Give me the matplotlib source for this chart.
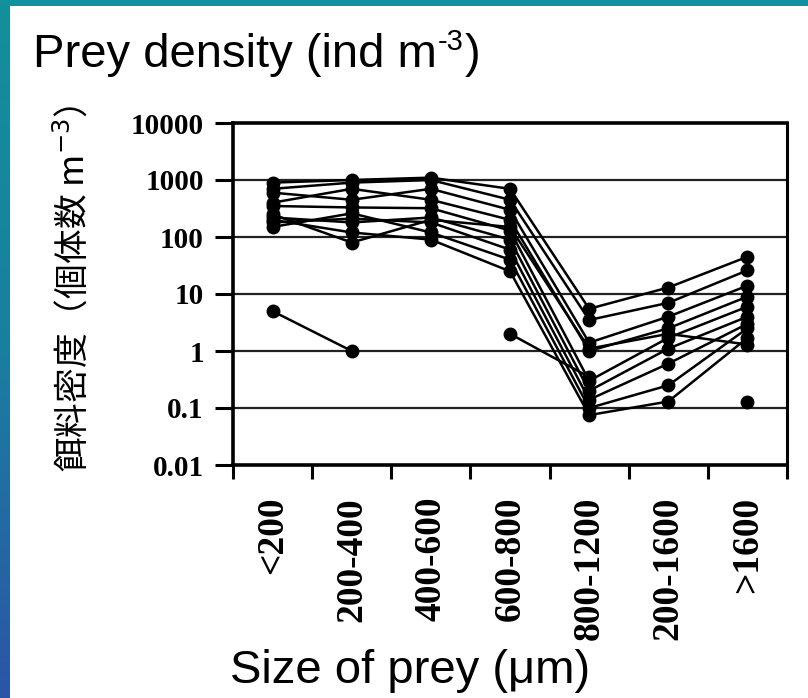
import numpy as np
import matplotlib.pyplot as plt
from matplotlib.patches import Rectangle
from matplotlib.colors import LinearSegmentedColormap
from matplotlib.ticker import NullLocator

W, H = 808, 698

categories = ["<200", "200-400", "400-600", "600-800", "800-1200", "200-1600", ">1600"]
yticks = [0.01, 0.1, 1, 10, 100, 1000, 10000]
ytick_labels = ["0.01", "0.1", "1", "10", "100", "1000", "10000"]

nan = np.nan
# prey density per size class, one list per sampling run
run_1 = [900, 1000, 1100, 700, 5.5, 13, 45]
run_2 = [700, 900, 1000, 450, 3.5, 7, 26]
run_3 = [600, 450, 700, 300, 1.4, 4, 14]
run_4 = [400, 700, 450, 200, 1.0, 2.5, 9]
run_5 = [350, 330, 320, 130, 0.3, 1.7, 6]
run_6 = [220, 180, 220, 90, 0.2, 1.1, 4]
run_7 = [180, 210, 180, 60, 0.14, 0.6, 3]
run_8 = [150, 260, 120, 40, 0.1, 0.25, 2.5]
run_9 = [200, 120, 90, 25, 0.075, 0.13, 1.7]
run_10 = [250, 80, 200, 150, 1.1, 2.0, 1.3]
run_11 = [5, 1, nan, nan, nan, nan, nan]
run_12 = [nan, nan, nan, 2, 0.35, nan, nan]
run_13 = [nan, nan, nan, nan, nan, nan, 0.13]

runs = [run_1, run_2, run_3, run_4, run_5, run_6, run_7,
        run_8, run_9, run_10, run_11, run_12, run_13]

fig = plt.figure(figsize=(W / 100, H / 100), dpi=100)

# slide frame: teal bar on top, teal->blue bar on the left
teal = "#13909a"
blue = "#2c55a6"
cmap = LinearSegmentedColormap.from_list("frame", [teal, "#1a7fa0", blue])
side = fig.add_axes([0, 0, 10 / W, 1])
side.imshow(np.linspace(0, 1, 256).reshape(-1, 1), aspect="auto", cmap=cmap)
side.axis("off")
fig.add_artist(Rectangle((0, 1 - 6 / H), 1, 6 / H, transform=fig.transFigure,
                         color=teal, lw=0))

ax = fig.add_axes([233 / W, (H - 465) / H, (787 - 233) / W, (465 - 123) / H])
x = np.arange(len(categories))
for r in runs:
    ax.plot(x, r, "-o", color="black", lw=1.8, ms=9, zorder=3)

ax.set_yscale("log")
ax.set_ylim(0.01, 10000)
ax.set_xlim(-0.5, 6.5)
for v in [0.1, 1, 10, 100, 1000]:
    ax.axhline(v, color="#222222", lw=1.6, zorder=1)

ax.set_yticks(yticks)
ax.set_yticklabels(ytick_labels, fontsize=21, fontweight="bold", family="Liberation Serif")
ax.yaxis.set_minor_locator(NullLocator())
ax.tick_params(axis="y", length=13, width=2.2, pad=8, direction="out")

ax.set_xticks(x)
ax.set_xticklabels(categories, rotation=90, fontsize=27, fontweight="bold",
                   family="Liberation Serif")
ax.set_xticks(np.arange(-0.5, 7), minor=True)
ax.tick_params(axis="x", which="major", length=0, pad=23)
ax.tick_params(axis="x", which="minor", length=10, width=2.2, direction="out")

for s in ["left", "bottom", "top"]:
    ax.spines[s].set_linewidth(2.6)
ax.spines["right"].set_linewidth(2.2)

fig.text(72 / W, 1 - 288 / H, "餌料密度（個体数 m$^{-3}$）", rotation=90,
         ha="center", va="center", fontsize=25,
         family=["Noto Sans CJK JP", "DejaVu Sans"])

# title pieces: small raised "-3" like the slide
t1 = fig.text(33 / W, 1 - 67 / H, "Prey density (ind m", fontsize=34,
              family="Liberation Sans", va="baseline", ha="left")
fig.canvas.draw()
r = fig.canvas.get_renderer()
x1 = t1.get_window_extent(r).x1
t2 = fig.text((x1 + 1) / W, 1 - 50 / H, "-3", fontsize=21,
              family="Liberation Sans", va="baseline", ha="left")
x2 = t2.get_window_extent(r).x1
fig.text((x2 + 1) / W, 1 - 67 / H, ")", fontsize=34,
         family="Liberation Sans", va="baseline", ha="left")

fig.text(230 / W, 1 - 683 / H, "Size of prey (μm)",
         fontsize=34, family="Liberation Sans", va="baseline", ha="left")

fig.savefig("out.png", dpi=100)
